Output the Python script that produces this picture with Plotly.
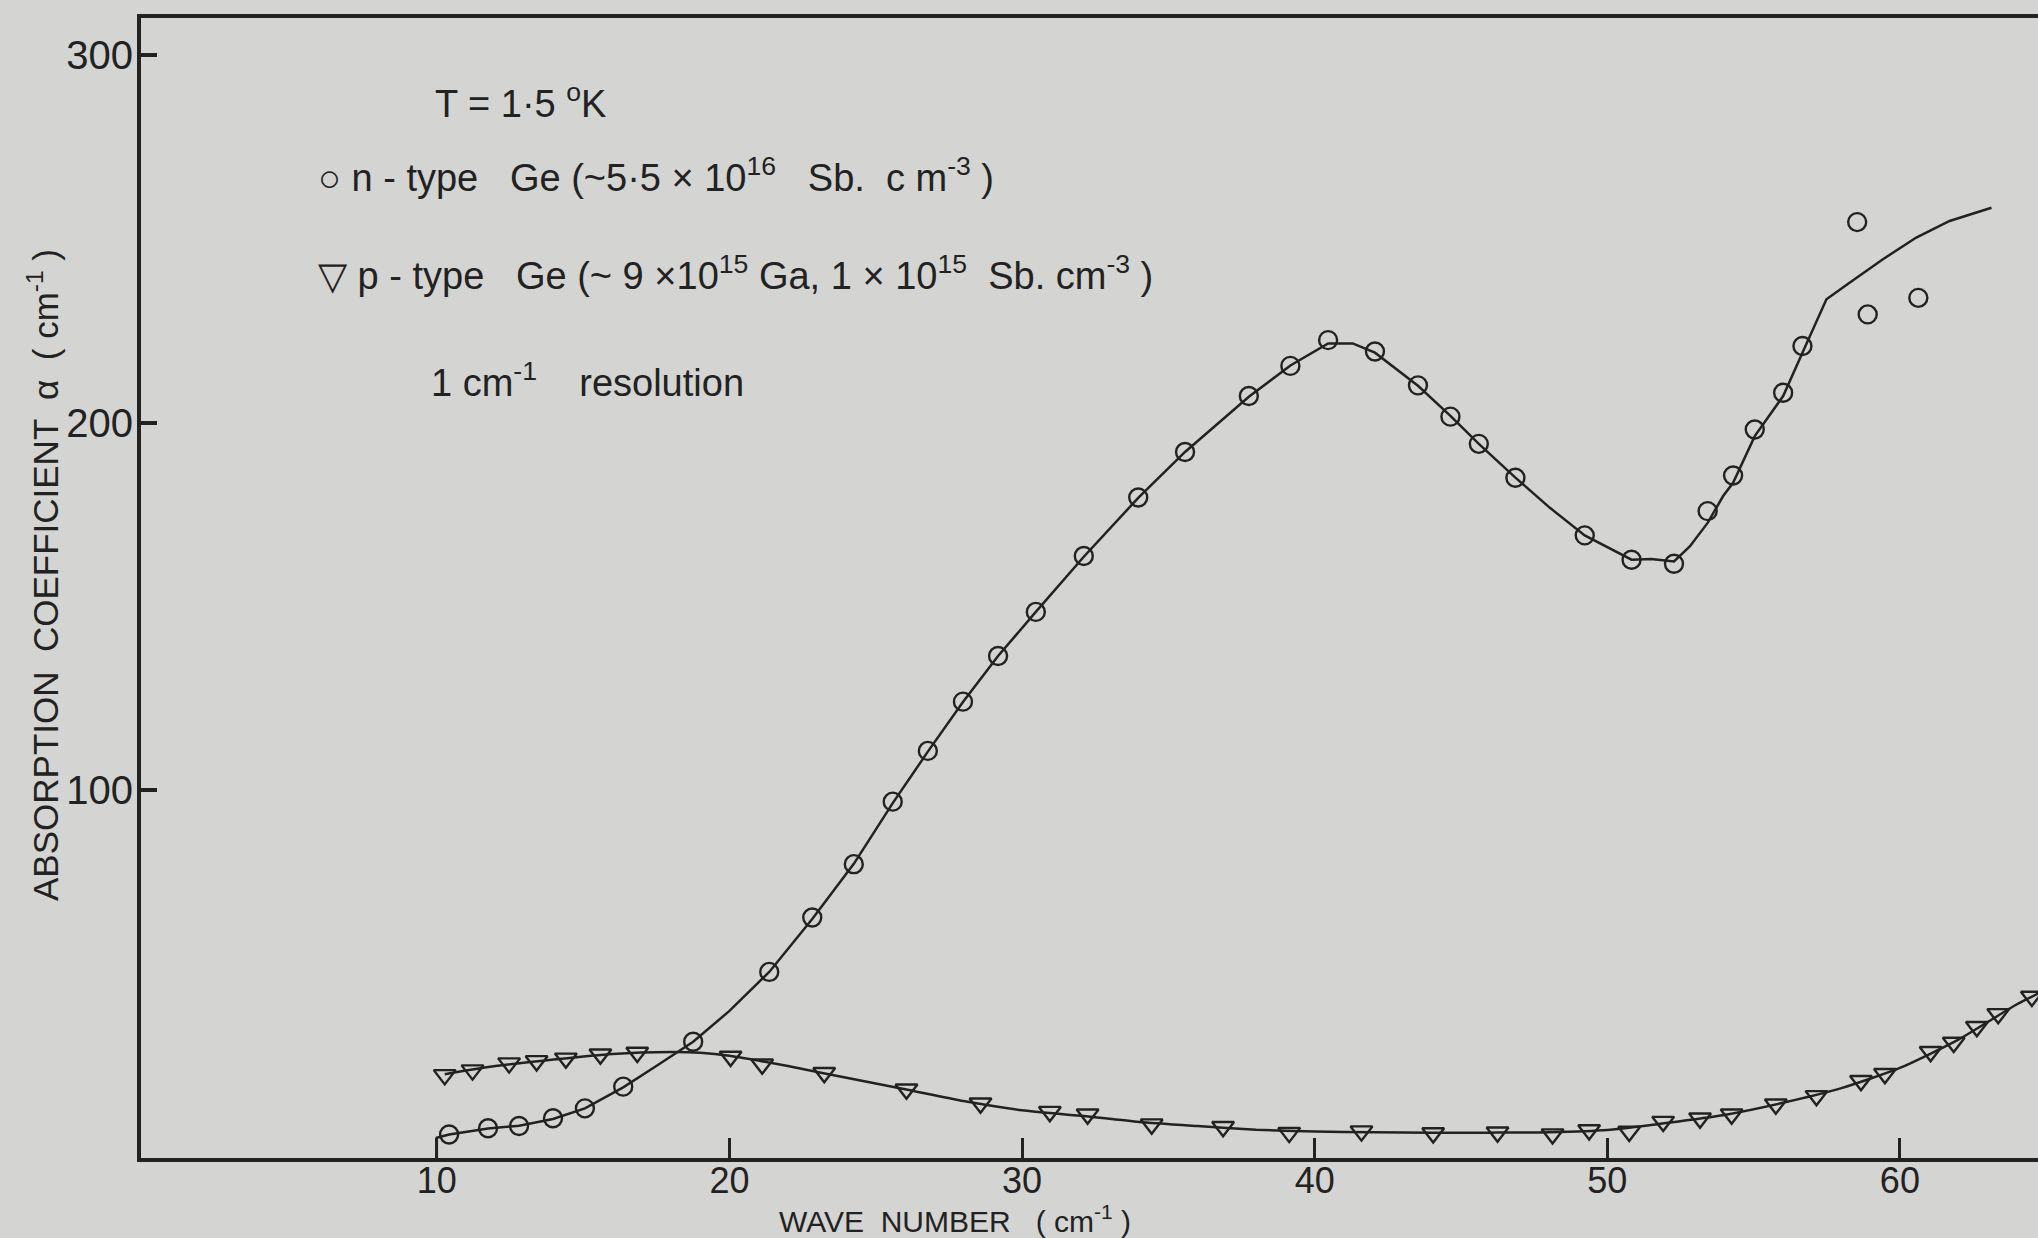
import plotly.graph_objects as go

# ---- data ----
n_x = [10.42, 11.75, 12.81, 13.97, 15.06, 16.37, 18.76, 21.36, 22.83, 24.25, 25.58, 26.78,
       27.98, 29.18, 30.47, 32.11, 33.97, 35.57, 37.75, 39.17, 40.46, 42.06, 43.53, 44.64,
       45.61, 46.86, 49.23, 50.83, 52.28, 53.43, 54.30, 55.04, 56.01, 56.67, 58.54, 58.90, 60.63]
n_y = [6.4, 8.1, 8.7, 10.8, 13.5, 19.4, 31.6, 50.6, 65.4, 79.9, 96.9, 110.7,
       124.1, 136.5, 148.5, 163.7, 179.6, 192.0, 207.2, 215.4, 222.4, 219.3, 210.1, 201.6,
       194.2, 185.0, 169.3, 162.7, 161.6, 175.9, 185.6, 198.1, 208.1, 220.8, 254.5, 229.4, 233.9]

n_fit_x = [10.0, 10.0, 10.42, 11.75, 12.81, 13.97, 15.06, 16.37, 17.5, 18.76, 20.0, 21.36, 22.83,
           24.25, 25.58, 26.78, 27.98, 29.18, 30.47, 32.11, 33.97, 35.57, 37.75, 39.17, 40.46,
           41.3, 42.06, 43.53, 44.64, 45.61, 46.86, 48.04, 49.23, 50.83, 51.5, 52.28, 52.82,
           53.43, 53.96, 54.3, 55.04, 56.01, 56.67, 57.49, 58.28, 59.42, 60.56, 61.7, 63.13]
n_fit_y = [0, 5.5, 6.4, 8.0, 8.8, 10.6, 13.5, 19.2, 25.0, 31.6, 40.0, 50.6, 65.0,
           80.0, 96.5, 110.5, 124.0, 136.5, 148.5, 163.5, 179.5, 192.0, 207.0, 215.5, 221.5,
           221.5, 219.0, 210.0, 201.8, 194.2, 185.0, 176.8, 169.3, 162.7, 162.9, 162.2, 166.3,
           172.7, 180.0, 183.6, 196.3, 207.2, 219.0, 233.5, 238.0, 244.4, 250.3, 254.8, 258.4]

p_x = [10.27, 11.22, 12.47, 13.41, 14.41, 15.59, 16.85, 20.04, 21.12, 23.24, 26.05, 28.58,
       30.95, 32.24, 34.43, 36.87, 39.13, 41.60, 44.05, 46.25, 48.13, 49.38, 50.75, 51.91,
       53.17, 54.25, 55.76, 57.15, 58.67, 59.49, 61.05, 61.84, 62.63, 63.36, 64.51]
p_y = [22.6, 23.9, 25.8, 26.4, 27.1, 28.2, 28.7, 27.6, 25.5, 23.2, 18.7, 14.9,
       12.6, 11.9, 9.2, 8.5, 6.9, 7.3, 6.8, 7.0, 6.5, 7.6, 7.2, 9.9,
       10.8, 11.9, 14.6, 16.9, 21.0, 22.9, 28.9, 31.4, 35.7, 39.2, 43.9]

p_fit_x = [10.27, 12.0, 14.0, 16.0, 18.0, 19.0, 20.0, 22.0, 24.0, 26.0, 28.0, 30.0, 32.0, 34.0,
           36.0, 38.0, 40.0, 42.0, 44.0, 46.0, 48.0, 50.0, 52.0, 54.0, 56.0, 58.0, 60.0, 62.0,
           64.0, 64.8]
p_fit_y = [22.8, 25.0, 26.8, 28.3, 28.8, 28.6, 27.8, 25.0, 21.8, 18.7, 15.5, 13.0, 11.5, 9.8,
           8.7, 7.7, 7.2, 7.0, 6.9, 6.9, 7.0, 7.6, 9.5, 11.7, 15.0, 19.0, 24.5, 32.2,
           41.8, 45.0]

x_ticks = [10, 20, 30, 40, 50, 60]
y_ticks = [100, 200, 300]

INK = "#222222"
BG = "#d4d4d2"
FONT = "Liberation Sans"

L, R, T, B = 141, 2038, 18, 1158

fig = go.Figure()
fig.add_trace(go.Scatter(x=n_fit_x, y=n_fit_y, mode="lines",
                         line=dict(color=INK, width=2.5), showlegend=False))
fig.add_trace(go.Scatter(x=p_fit_x, y=p_fit_y, mode="lines",
                         line=dict(color=INK, width=2.5, shape="spline", smoothing=0.6),
                         showlegend=False))
fig.add_trace(go.Scatter(x=n_x, y=n_y, mode="markers",
                         marker=dict(symbol="circle-open", size=18, color=INK,
                                     line=dict(width=2.4, color=INK)),
                         showlegend=False))
fig.add_trace(go.Scatter(x=p_x, y=p_y, mode="markers",
                         marker=dict(symbol="triangle-down-open", size=19, color=INK,
                                     line=dict(width=2.4, color=INK)),
                         showlegend=False))

fig.update_layout(
    width=2038, height=1238,
    margin=dict(l=L, r=0, t=T, b=1238 - B),
    paper_bgcolor=BG, plot_bgcolor=BG,
    font=dict(family=FONT, color=INK, size=38),
    xaxis=dict(range=[-0.11, 64.72], tickvals=x_ticks, ticktext=[str(v) for v in x_ticks],
               showgrid=False, zeroline=False, showline=True, linecolor=INK, linewidth=4,
               mirror=True, ticks="inside", ticklen=20, tickwidth=3, tickcolor=INK,
               ticklabelstandoff=-12,
               tickfont=dict(size=36, family=FONT, color=INK)),
    yaxis=dict(range=[0, 310], tickvals=y_ticks, ticktext=[str(v) for v in y_ticks],
               showgrid=False, zeroline=False, showline=True, linecolor=INK, linewidth=4,
               ticks="inside", ticklen=16, tickwidth=4, tickcolor=INK,
               ticklabelstandoff=-4,
               tickfont=dict(size=40, family=FONT, color=INK)),
)


def px(xp):
    return (xp - L) / (R - L)


def py(yp):
    return 1 - (yp - T) / (B - T)


annots = [
    ("T = 1·5 <sup>o</sup>K", 433, 101),
    ("○ n - type   Ge (~5·5 × 10<sup>16</sup>   Sb.  c m<sup>-3</sup> )", 316, 175),
    ("▽ p - type   Ge (~ 9 ×10<sup>15</sup> Ga, 1 × 10<sup>15</sup>  Sb. cm<sup>-3</sup> )", 316, 273),
    ("1 cm<sup>-1</sup>    resolution", 429, 380),
]
for text, xp, yp in annots:
    fig.add_annotation(text=text, xref="paper", yref="paper", x=px(xp), y=py(yp),
                       xanchor="left", yanchor="middle", showarrow=False,
                       font=dict(size=38, family=FONT, color=INK))

fig.add_annotation(text="WAVE  NUMBER   ( cm<sup>-1</sup> )", xref="paper", yref="paper",
                   x=px(955), y=py(1219), xanchor="center", yanchor="middle", showarrow=False,
                   font=dict(size=30, family=FONT, color=INK))
fig.add_annotation(text="ABSORPTION  COEFFICIENT  α  ( cm<sup>-1</sup> )", xref="paper", yref="paper",
                   x=px(43), y=py(575), xanchor="center", yanchor="middle", showarrow=False,
                   textangle=-90, font=dict(size=35, family=FONT, color=INK))

fig.write_html("out.html")
